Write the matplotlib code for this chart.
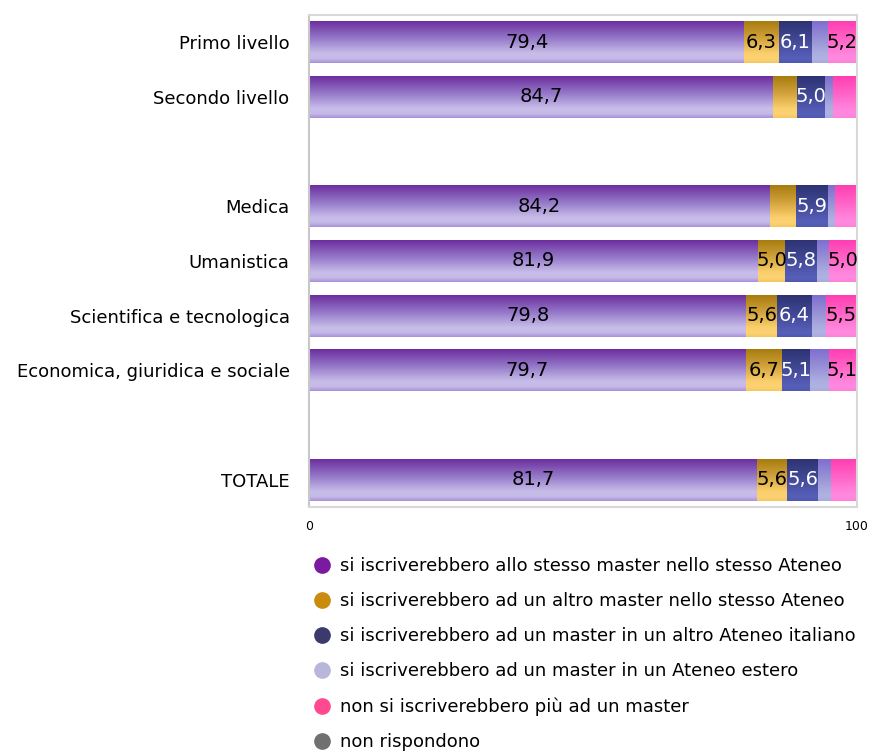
"""
Stacked horizontal bars with vertical gradient fill, master survey
"""

import numpy as np
from matplotlib import pyplot as plt
from matplotlib.colors import LinearSegmentedColormap
from matplotlib.lines import Line2D

categories = ['Primo livello', 'Secondo livello', 'Medica', 'Umanistica',
              'Scientifica e tecnologica', 'Economica, giuridica e sociale', 'TOTALE']
slots = [0, 1, 3, 4, 5, 6, 8]

stesso_master = [79.4, 84.7, 84.2, 81.9, 79.8, 79.7, 81.7]
altro_master = [6.3, 4.4, 4.6, 5.0, 5.6, 6.7, 5.6]
altro_ateneo = [6.1, 5.0, 5.9, 5.8, 6.4, 5.1, 5.6]
ateneo_estero = [2.9, 1.5, 1.2, 2.2, 2.6, 3.3, 2.4]
nessun_master = [5.2, 4.4, 4.1, 5.0, 5.5, 5.1, 4.7]
non_rispondono = [0.1, 0.0, 0.0, 0.1, 0.1, 0.1, 0.0]

series = [stesso_master, altro_master, altro_ateneo, ateneo_estero, nessun_master, non_rispondono]
legend_labels = ['si iscriverebbero allo stesso master nello stesso Ateneo',
                 'si iscriverebbero ad un altro master nello stesso Ateneo',
                 'si iscriverebbero ad un master in un altro Ateneo italiano',
                 'si iscriverebbero ad un master in un Ateneo estero',
                 'non si iscriverebbero più ad un master',
                 'non rispondono']

# gradient colours, top -> bottom of each bar
stops = [0.0, 0.42, 0.78, 0.9, 1.0]
gradients = [['#6a2a9c', '#9478c8', '#c8bde9', '#c6bae8', '#a890d8'],
             ['#a47a0c', '#d2a23c', '#fbcf6c', '#fcd274', '#f4c860'],
             ['#2c3170', '#3f4792', '#5259b0', '#5660b8', '#5058b0'],
             ['#7d6cd0', '#9690d6', '#acaee0', '#b0b2e2', '#a8aadc'],
             ['#ff3cb0', '#ff62c6', '#ff84dc', '#ff8ae0', '#ff80d8'],
             ['#505050', '#808080', '#b0b0b0', '#b0b0b0', '#a0a0a0']]
legend_colors = ['#7a1aa0', '#c98c0c', '#3a3a6c', '#b8b6da', '#ff4a92', '#707070']
text_colors = ['black', 'black', 'white', 'black', 'black', 'black']

fig = plt.figure(figsize=(8.73, 7.53), dpi=100)
ax = fig.add_axes([309/873, 1 - 507/753, 548/873, 492/753])

grad = np.linspace(0, 1, 128).reshape(-1, 1)
left = np.zeros(len(categories))
for ii, vals in enumerate(series):
    vals = np.array(vals)
    bars = ax.barh(slots, vals, left=left, height=0.77, color='none', edgecolor='none')
    cmap = LinearSegmentedColormap.from_list('g%d' % ii, list(zip(stops, gradients[ii])))
    for jj, b in enumerate(bars):
        if vals[jj] <= 0:
            continue
        x0, y0, w, h = b.get_x(), b.get_y(), b.get_width(), b.get_height()
        # y axis is inverted: y0 is the visual top
        im = ax.imshow(grad, cmap=cmap, aspect='auto', interpolation='bilinear',
                       extent=[x0, x0 + w, y0 + h, y0], zorder=2)
        im.set_clip_path(b)
        if vals[jj] >= 5 and ii < 5:
            ax.text(x0 + w/2, slots[jj], ('%.1f' % vals[jj]).replace('.', ','),
                    ha='center', va='center', fontsize=14, color=text_colors[ii], zorder=3)
    left += vals

ax.set_xlim(0, 100)
ax.set_ylim(8.5, -0.5)
ax.set_yticks(slots)
ax.set_yticklabels(categories, fontsize=13)
ax.set_xticks([0, 100])
ax.set_xticklabels(['0', '100'], fontsize=9)
ax.tick_params(length=0)
ax.tick_params(axis='y', pad=14)
ax.tick_params(axis='x', pad=9)
for s in ax.spines.values():
    s.set_color('#d8d8d8')
    s.set_linewidth(1.5)
ax.spines['left'].set_color('#c8c8c8')

handles = [Line2D([], [], marker='o', linestyle='none', markersize=11,
                  markerfacecolor=c, markeredgecolor=c) for c in legend_colors]
fig.legend(handles, legend_labels, loc='upper left', bbox_to_anchor=(303/873, 1 - 548/753),
           frameon=False, fontsize=13, labelspacing=0.95, handletextpad=0.45,
           handlelength=1.1, borderpad=0)

fig.savefig('out.png', dpi=100)
